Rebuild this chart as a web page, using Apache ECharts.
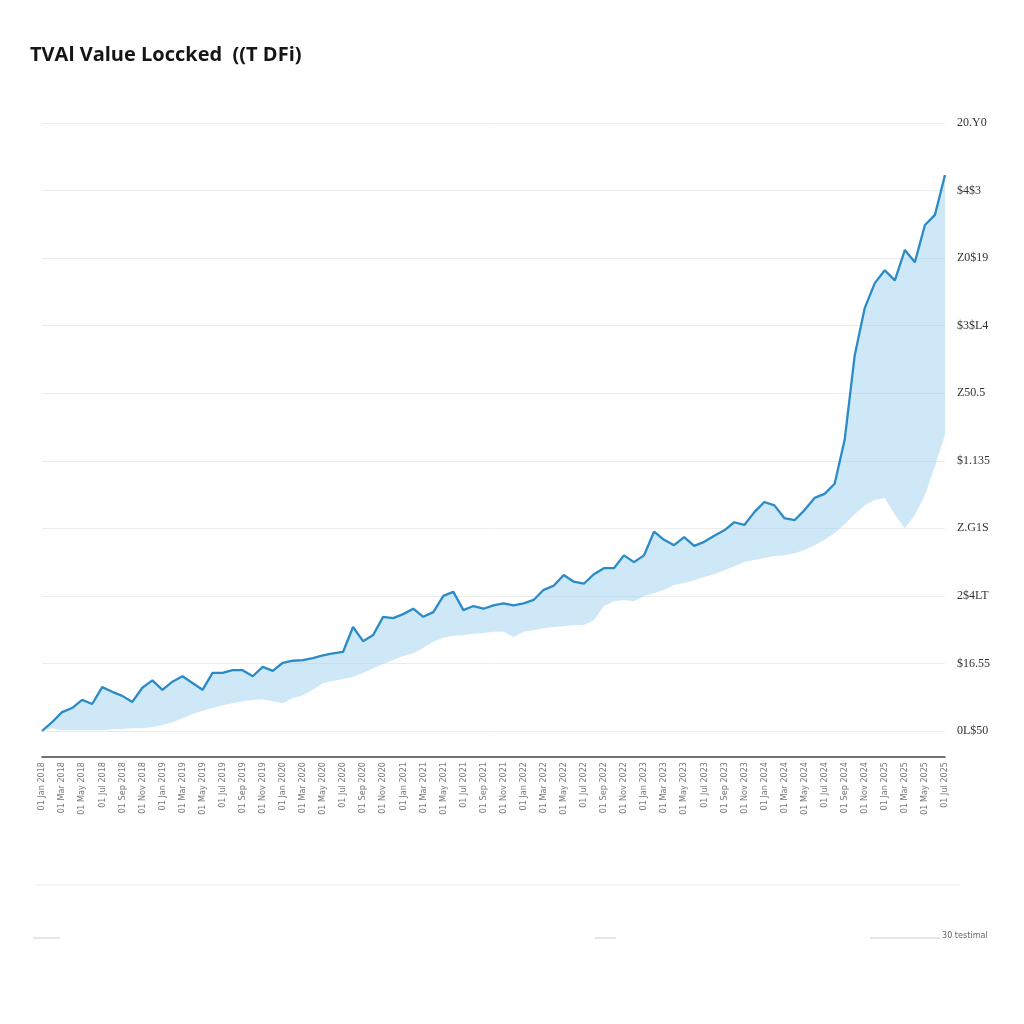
<!DOCTYPE html>
<html>
<head>
<meta charset="utf-8">
<script src="https://cdn.jsdelivr.net/npm/echarts@6/dist/echarts.min.js"></script>
<style>
html,body{margin:0;padding:0;background:#fff;}
#chart{width:1024px;height:1024px;}
</style>
</head>
<body>
<div id="chart"></div>
<script>
// ---- data ----
var categories = [
"01 Jan 2018","01 Feb 2018","01 Mar 2018","01 Apr 2018","01 May 2018","01 Jun 2018","01 Jul 2018","01 Aug 2018","01 Sep 2018","01 Oct 2018","01 Nov 2018","01 Dec 2018",
"01 Jan 2019","01 Feb 2019","01 Mar 2019","01 Apr 2019","01 May 2019","01 Jun 2019","01 Jul 2019","01 Aug 2019","01 Sep 2019","01 Oct 2019","01 Nov 2019","01 Dec 2019",
"01 Jan 2020","01 Feb 2020","01 Mar 2020","01 Apr 2020","01 May 2020","01 Jun 2020","01 Jul 2020","01 Aug 2020","01 Sep 2020","01 Oct 2020","01 Nov 2020","01 Dec 2020",
"01 Jan 2021","01 Feb 2021","01 Mar 2021","01 Apr 2021","01 May 2021","01 Jun 2021","01 Jul 2021","01 Aug 2021","01 Sep 2021","01 Oct 2021","01 Nov 2021","01 Dec 2021",
"01 Jan 2022","01 Feb 2022","01 Mar 2022","01 Apr 2022","01 May 2022","01 Jun 2022","01 Jul 2022","01 Aug 2022","01 Sep 2022","01 Oct 2022","01 Nov 2022","01 Dec 2022",
"01 Jan 2023","01 Feb 2023","01 Mar 2023","01 Apr 2023","01 May 2023","01 Jun 2023","01 Jul 2023","01 Aug 2023","01 Sep 2023","01 Oct 2023","01 Nov 2023","01 Dec 2023",
"01 Jan 2024","01 Feb 2024","01 Mar 2024","01 Apr 2024","01 May 2024","01 Jun 2024","01 Jul 2024","01 Aug 2024","01 Sep 2024","01 Oct 2024","01 Nov 2024","01 Dec 2024",
"01 Jan 2025","01 Feb 2025","01 Mar 2025","01 Apr 2025","01 May 2025","01 Jun 2025","01 Jul 2025"
];

var tvlLine = [
0,1.3,2.8,3.4,4.6,4.0,6.5,5.8,5.2,4.3,
6.4,7.5,6.1,7.3,8.1,7.1,6.1,8.6,8.6,9.0,
9.0,8.1,9.5,8.9,10.1,10.4,10.5,10.8,11.2,11.5,
11.7,15.4,13.3,14.2,16.9,16.7,17.3,18.1,16.9,17.6,
20.0,20.6,17.9,18.5,18.1,18.6,18.9,18.6,18.9,19.4,
20.9,21.5,23.1,22.1,21.8,23.2,24.1,24.1,26.0,25.0,
26.0,29.5,28.3,27.5,28.7,27.4,28.0,28.9,29.7,30.9,
30.5,32.4,33.9,33.4,31.5,31.2,32.7,34.5,35.1,36.6,
43.1,55.6,62.6,66.3,68.2,66.7,71.2,69.4,74.9,76.4,
82.3
];

var tvlLower = [
0,0.4,0.1,0.1,0.1,0.1,0.1,0.3,0.3,0.4,
0.4,0.6,0.9,1.3,1.9,2.5,3.0,3.4,3.8,4.1,
4.4,4.6,4.7,4.4,4.1,4.9,5.3,6.1,7.1,7.4,
7.7,8.0,8.6,9.3,9.9,10.5,11.1,11.5,12.3,13.2,
13.8,14.1,14.2,14.4,14.5,14.7,14.7,13.9,14.7,14.9,
15.2,15.4,15.5,15.7,15.7,16.4,18.5,19.2,19.4,19.2,
20.0,20.4,20.9,21.6,21.9,22.3,22.8,23.2,23.8,24.4,
25.0,25.3,25.6,25.9,26.0,26.3,26.8,27.5,28.3,29.3,
30.6,32.1,33.4,34.2,34.5,32.0,30.0,32.0,34.9,39.2,
43.8
];

var yTickLabels = ["0L$50","$16.55","2$4LT","Z.G1S","$1.135","Z50.5","$3$L4","Z0$19","$4$3","20.Y0"];

var titleText = "TVAl Value Loccked  ((T DFi)";
var footText = "30 testimal";

// band = line - lower (stacked on lower)
var bandDiff = tvlLine.map(function(v, i){ return Math.max(0, +(v - tvlLower[i]).toFixed(2)); });

var chart = echarts.init(document.getElementById('chart'), null, {renderer:'canvas'});
chart.setOption({
  backgroundColor:'#ffffff',
  animation:false,
  title:{
    text:titleText, left:25, top:40,
    textStyle:{fontFamily:'Open Sans', fontWeight:'bold', fontSize:20, color:'#151515'}
  },
  grid:{left:42, right:79, top:123, bottom:293, containLabel:false},
  xAxis:{
    type:'category', data:categories, boundaryGap:false,
    offset:26,
    axisLine:{show:true, onZero:false, lineStyle:{color:'#444', width:1.5}},
    axisTick:{show:false},
    axisLabel:{interval:1, rotate:90, fontSize:9, color:'#777', fontFamily:'DejaVu Sans Condensed', margin:5},
    splitLine:{show:false}
  },
  yAxis:{
    type:'value', position:'right', min:0, max:90, interval:10,
    axisLine:{show:false}, axisTick:{show:false},
    axisLabel:{
      margin:12, fontSize:12, color:'#333', fontFamily:'Liberation Serif',
      formatter:function(v){ var k=Math.round(v/10); return yTickLabels[k]||''; }
    },
    splitLine:{show:true, lineStyle:{color:'#ececec', width:1}}
  },
  series:[
    {name:'lower', type:'line', data:tvlLower, stack:'band', symbol:'none',
     lineStyle:{opacity:0}, silent:true},
    {name:'band', type:'line', data:bandDiff, stack:'band', symbol:'none',
     lineStyle:{opacity:0}, areaStyle:{color:'rgba(150,205,240,0.65)'}, silent:true},
    {name:'TVL', type:'line', data:tvlLine, symbol:'none',
     lineStyle:{color:'#2a8bc8', width:2.3}, itemStyle:{color:'#2a8bc8'}}
  ],
  graphic:[
    {type:'line', shape:{x1:35,y1:885,x2:960,y2:885}, style:{stroke:'#eeeeee', lineWidth:1}},
    {type:'line', shape:{x1:33,y1:938,x2:60,y2:938}, style:{stroke:'#cccccc', lineWidth:1}},
    {type:'line', shape:{x1:595,y1:938,x2:616,y2:938}, style:{stroke:'#cccccc', lineWidth:1}},
    {type:'line', shape:{x1:870,y1:938,x2:940,y2:938}, style:{stroke:'#cccccc', lineWidth:1}},
    {type:'text', left:942, top:931, style:{text:footText, fontSize:9, fill:'#666', fontFamily:'DejaVu Sans Condensed'}}
  ]
});
</script>
</body>
</html>
